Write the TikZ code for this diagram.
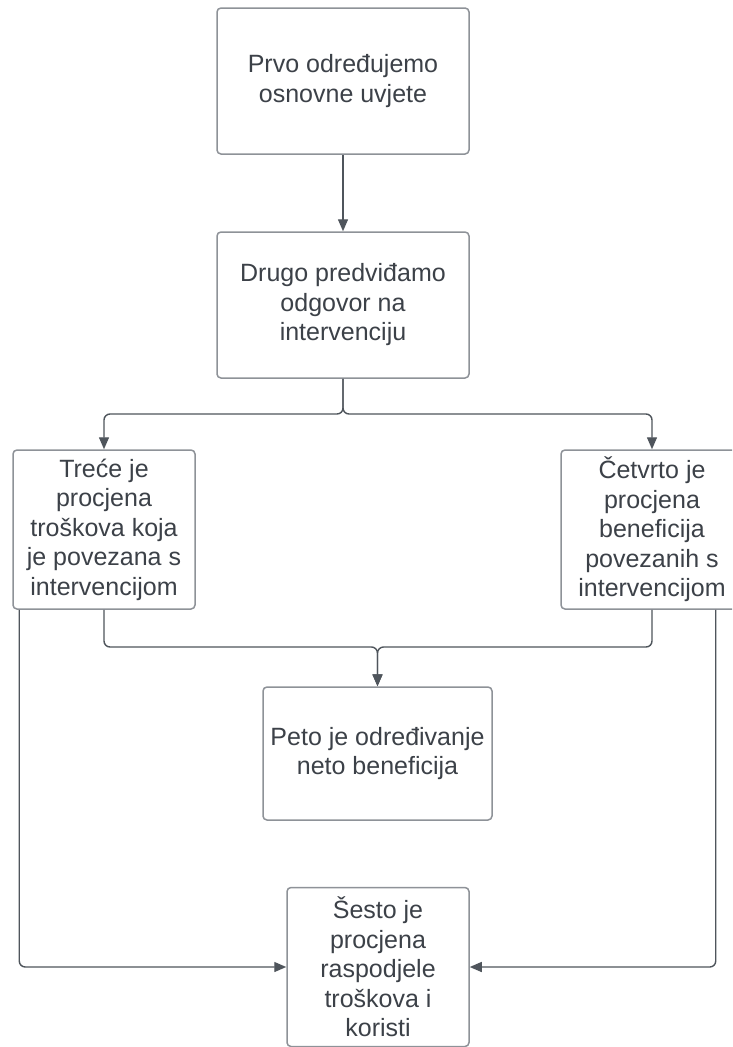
\documentclass[tikz,border=0pt]{standalone}
\usepackage{fontspec}
\setmainfont{Liberation Sans}
\usetikzlibrary{arrows.meta,calc}
\definecolor{boxline}{HTML}{8E9298}
\definecolor{conline}{HTML}{4F555C}
\definecolor{txt}{HTML}{3C4148}
\tikzset{
  stepbox/.style={draw=boxline, line width=1.5pt, rounded corners=4pt, fill=white,
    align=center, text=txt, inner sep=0pt,
    font=\fontsize{25pt}{29.5pt}\selectfont},
  conn/.style={draw=conline, line width=1.4pt, rounded corners=6pt,
    -{Triangle[length=12pt,width=10pt]}},
}
\begin{document}
\begin{tikzpicture}[x=1pt,y=-1pt]
\useasboundingbox (0,0) rectangle (732,1047);
\clip (0,0) rectangle (732,1047);
\fill[white] (0,0) rectangle (732,1047);
\node[stepbox, minimum width=252pt, minimum height=146pt] (b1) at (343,81) {Prvo određujemo\\osnovne uvjete};
\node[stepbox, minimum width=252pt, minimum height=146pt] (b2) at (343,305) {Drugo predviđamo\\odgovor na\\intervenciju};
\node[stepbox, minimum width=182pt, minimum height=159pt] (b3) at (104,529.5) {Treće je\\procjena\\troškova koja\\je povezana s\\intervencijom};
\node[stepbox, minimum width=182pt, minimum height=159pt] (b4) at (652,529.5) {Četvrto je\\procjena\\beneficija\\povezanih s\\intervencijom};
\node[stepbox, minimum width=229pt, minimum height=133pt] (b5) at (377.5,753.5) {Peto je određivanje\\neto beneficija};
\node[stepbox, minimum width=182pt, minimum height=159pt] (b6) at (378,967) {Šesto je\\procjena\\raspodjele\\troškova i\\koristi};
\coordinate (c3) at ($(b3.south west)+(7,0)$);
\coordinate (c4) at ($(b4.south east)+(-28,0)$);
\draw[conn] (b1.south) -- (b2.north);
\draw[conn] (b2.south) |- (104,414) -- (b3.north);
\draw[conn] (b2.south) |- (652,414) -- (b4.north);
\draw[conn] (b3.south) |- (377.5,647) -- (b5.north);
\draw[conn] (b4.south) |- (377.5,647) -- (b5.north);
\draw[conn] (c3) |- (b6.west);
\draw[conn] (c4) |- (b6.east);
\end{tikzpicture}
\end{document}
